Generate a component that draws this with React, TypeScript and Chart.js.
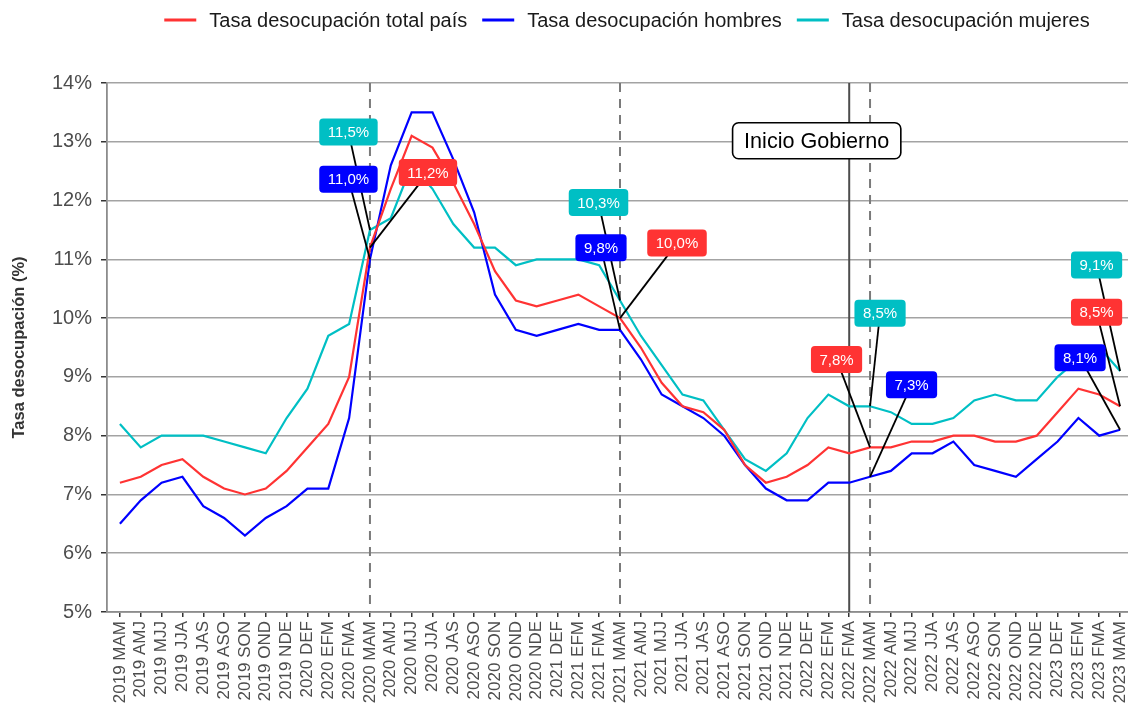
import React, { useEffect, useRef } from "react";
import { Chart, registerables } from "chart.js";

Chart.register(...registerables);

const categories = [
  "2019 MAM", "2019 AMJ", "2019 MJJ", "2019 JJA", "2019 JAS", "2019 ASO", "2019 SON", "2019 OND", "2019 NDE",
  "2020 DEF", "2020 EFM", "2020 FMA", "2020 MAM", "2020 AMJ", "2020 MJJ", "2020 JJA", "2020 JAS", "2020 ASO",
  "2020 SON", "2020 OND", "2020 NDE", "2021 DEF", "2021 EFM", "2021 FMA", "2021 MAM", "2021 AMJ", "2021 MJJ",
  "2021 JJA", "2021 JAS", "2021 ASO", "2021 SON", "2021 OND", "2021 NDE", "2022 DEF", "2022 EFM", "2022 FMA",
  "2022 MAM", "2022 AMJ", "2022 MJJ", "2022 JJA", "2022 JAS", "2022 ASO", "2022 SON", "2022 OND", "2022 NDE",
  "2023 DEF", "2023 EFM", "2023 FMA", "2023 MAM",
];

const totalPais = [
  7.2, 7.3, 7.5, 7.6, 7.3, 7.1, 7.0, 7.1, 7.4,
  7.8, 8.2, 9.0, 11.2, 12.2, 13.1, 12.9, 12.3, 11.6,
  10.8, 10.3, 10.2, 10.3, 10.4, 10.2, 10.0, 9.5, 8.9,
  8.5, 8.4, 8.1, 7.5, 7.2, 7.3, 7.5, 7.8, 7.7,
  7.8, 7.8, 7.9, 7.9, 8.0, 8.0, 7.9, 7.9, 8.0,
  8.4, 8.8, 8.7, 8.5,
];

const hombres = [
  6.5, 6.9, 7.2, 7.3, 6.8, 6.6, 6.3, 6.6, 6.8,
  7.1, 7.1, 8.3, 11.0, 12.6, 13.5, 13.5, 12.7, 11.8,
  10.4, 9.8, 9.7, 9.8, 9.9, 9.8, 9.8, 9.3, 8.7,
  8.5, 8.3, 8.0, 7.5, 7.1, 6.9, 6.9, 7.2, 7.2,
  7.3, 7.4, 7.7, 7.7, 7.9, 7.5, 7.4, 7.3, 7.6,
  7.9, 8.3, 8.0, 8.1,
];

const mujeres = [
  8.2, 7.8, 8.0, 8.0, 8.0, 7.9, 7.8, 7.7, 8.3,
  8.8, 9.7, 9.9, 11.5, 11.7, 12.6, 12.2, 11.6, 11.2,
  11.2, 10.9, 11.0, 11.0, 11.0, 10.9, 10.3, 9.7, 9.2,
  8.7, 8.6, 8.1, 7.6, 7.4, 7.7, 8.3, 8.7, 8.5,
  8.5, 8.4, 8.2, 8.2, 8.3, 8.6, 8.7, 8.6, 8.6,
  9.0, 9.3, 9.5, 9.1,
];

const yTickValues = [5, 6, 7, 8, 9, 10, 11, 12, 13, 14];

const seriesNames = [
  "Tasa desocupación total país",
  "Tasa desocupación hombres",
  "Tasa desocupación mujeres",
];

const dashedAt = ["2020 MAM", "2021 MAM", "2022 MAM"];
const gobiernoAt = "2022 FMA";
const gobiernoText = "Inicio Gobierno";

// label placement (pixel offsets from the labelled point)
const annotations = [
  { series: 2, cat: "2020 MAM", dx: -21.5, dy: -98 },
  { series: 1, cat: "2020 MAM", dx: -21.5, dy: -80 },
  { series: 0, cat: "2020 MAM", dx: 58, dy: -75 },
  { series: 2, cat: "2021 MAM", dx: -21.5, dy: -98 },
  { series: 1, cat: "2021 MAM", dx: -19, dy: -82 },
  { series: 0, cat: "2021 MAM", dx: 57, dy: -75 },
  { series: 0, cat: "2022 MAM", dx: -33.5, dy: -88 },
  { series: 2, cat: "2022 MAM", dx: 10, dy: -93 },
  { series: 1, cat: "2022 MAM", dx: 41.5, dy: -92 },
  { series: 2, cat: "2023 MAM", dx: -23.5, dy: -106 },
  { series: 0, cat: "2023 MAM", dx: -23.5, dy: -94 },
  { series: 1, cat: "2023 MAM", dx: -40, dy: -72 },
];

const COLORS = ["#FF3333", "#0000FF", "#00BFC4"];
const FONT = "'Liberation Sans', Arial, Helvetica, sans-serif";

function roundRect(ctx: CanvasRenderingContext2D, x: number, y: number, w: number, h: number, r: number) {
  ctx.beginPath();
  ctx.moveTo(x + r, y);
  ctx.lineTo(x + w - r, y);
  ctx.arcTo(x + w, y, x + w, y + r, r);
  ctx.lineTo(x + w, y + h - r);
  ctx.arcTo(x + w, y + h, x + w - r, y + h, r);
  ctx.lineTo(x + r, y + h);
  ctx.arcTo(x, y + h, x, y + h - r, r);
  ctx.lineTo(x, y + r);
  ctx.arcTo(x, y, x + r, y, r);
  ctx.closePath();
}

const overlayPlugin = {
  id: "overlay",
  beforeDatasetsDraw(chart: any) {
    const { ctx, chartArea, scales } = chart;
    const x = scales.x;
    ctx.save();
    ctx.lineWidth = 2;
    ctx.strokeStyle = "#7a7a7a";
    ctx.setLineDash([9, 7]);
    dashedAt.forEach((c) => {
      const px = x.getPixelForValue(categories.indexOf(c));
      ctx.beginPath();
      ctx.moveTo(px, chartArea.top);
      ctx.lineTo(px, chartArea.bottom);
      ctx.stroke();
    });
    ctx.setLineDash([]);
    ctx.strokeStyle = "#4d4d4d";
    const gx = x.getPixelForValue(categories.indexOf(gobiernoAt));
    ctx.beginPath();
    ctx.moveTo(gx, chartArea.top);
    ctx.lineTo(gx, chartArea.bottom);
    ctx.stroke();
    ctx.restore();
  },
  afterDatasetsDraw(chart: any) {
    const { ctx, scales } = chart;
    const x = scales.x;
    const y = scales.y;
    const data = [totalPais, hombres, mujeres];
    ctx.save();
    const items = annotations.map((a) => {
      const i = categories.indexOf(a.cat);
      const v = data[a.series][i];
      const px = x.getPixelForValue(i);
      const py = y.getPixelForValue(v);
      return { px, py, cx: px + a.dx, cy: py + a.dy, v, s: a.series };
    });
    ctx.strokeStyle = "#000";
    ctx.lineWidth = 1.8;
    items.forEach((it) => {
      ctx.beginPath();
      ctx.moveTo(it.cx, it.cy);
      ctx.lineTo(it.px, it.py);
      ctx.stroke();
    });
    ctx.font = `15px ${FONT}`;
    ctx.textAlign = "center";
    ctx.textBaseline = "middle";
    items.forEach((it) => {
      const txt = it.v.toFixed(1).replace(".", ",") + "%";
      const w = ctx.measureText(txt).width + 17;
      const h = 27;
      roundRect(ctx, it.cx - w / 2, it.cy - h / 2, w, h, 4);
      ctx.fillStyle = COLORS[it.s];
      ctx.fill();
      ctx.fillStyle = "#fff";
      ctx.fillText(txt, it.cx, it.cy + 1);
    });

    // Inicio Gobierno label
    const gx = x.getPixelForValue(categories.indexOf(gobiernoAt)) - 32.5;
    const gy = y.getPixelForValue(13) - 1;
    ctx.font = `21.6px ${FONT}`;
    const gw = ctx.measureText(gobiernoText).width + 23;
    const gh = 36;
    roundRect(ctx, gx - gw / 2, gy - gh / 2, gw, gh, 6);
    ctx.fillStyle = "#fff";
    ctx.fill();
    ctx.lineWidth = 1.6;
    ctx.strokeStyle = "#000";
    ctx.stroke();
    ctx.fillStyle = "#000";
    ctx.fillText(gobiernoText, gx, gy + 1);
    ctx.restore();
  },
  afterDraw(chart: any) {
    const { ctx } = chart;
    ctx.save();
    ctx.font = `20px ${FONT}`;
    ctx.textBaseline = "middle";
    ctx.textAlign = "left";
    const lineW = 32;
    const gap1 = 13;
    const gap2 = 15;
    const widths = seriesNames.map((n) => ctx.measureText(n).width);
    const total = widths.reduce((a, b) => a + b, 0) + 3 * (lineW + gap1) + 2 * gap2;
    let xPos = 627 - total / 2;
    const yPos = 20;
    seriesNames.forEach((n, i) => {
      ctx.strokeStyle = COLORS[i];
      ctx.lineWidth = 3;
      ctx.beginPath();
      ctx.moveTo(xPos, yPos);
      ctx.lineTo(xPos + lineW, yPos);
      ctx.stroke();
      xPos += lineW + gap1;
      ctx.fillStyle = "#1a1a1a";
      ctx.fillText(n, xPos, yPos + 1);
      xPos += widths[i] + gap2;
    });
    ctx.restore();
  },
};

export default function App() {
  const canvasRef = useRef<HTMLCanvasElement | null>(null);

  useEffect(() => {
    document.body.style.margin = "0";
    const canvas = canvasRef.current;
    if (!canvas) return;
    Chart.defaults.font.family = FONT;

    const mk = (arr: number[], i: number) => ({
      label: seriesNames[i],
      data: arr.map((v, k) => ({ x: k, y: v })),
      borderColor: COLORS[i],
      backgroundColor: COLORS[i],
      borderWidth: 2.2,
      pointRadius: 0,
      pointHoverRadius: 0,
      tension: 0,
      fill: false,
    });

    const chart = new Chart(canvas, {
      type: "line",
      data: {
        datasets: [mk(totalPais, 0), mk(hombres, 1), mk(mujeres, 2)],
      },
      plugins: [overlayPlugin],
      options: {
        animation: false,
        responsive: true,
        maintainAspectRatio: false,
        layout: { padding: { top: 83, left: 0, right: 0, bottom: 0 } },
        plugins: {
          legend: { display: false },
          tooltip: { enabled: false },
          title: { display: false },
        },
        scales: {
          x: {
            type: "linear",
            min: -0.62,
            max: categories.length - 1 + 0.38,
            afterBuildTicks: (scale: any) => {
              scale.ticks = categories.map((_, i) => ({ value: i }));
            },
            afterFit: (scale: any) => {
              scale.height = 97;
              scale.paddingLeft = 0;
              scale.paddingRight = 0;
            },
            ticks: {
              autoSkip: false,
              minRotation: 90,
              maxRotation: 90,
              padding: 4,
              color: "#4d4d4d",
              font: { size: 17 },
              callback: (v: any) => categories[Math.round(Number(v))] ?? "",
            },
            grid: {
              drawOnChartArea: false,
              drawTicks: true,
              tickLength: 5,
              tickColor: "#333333",
              lineWidth: 1.5,
            },
            border: { display: true, color: "#8c8c8c", width: 1.8 },
          },
          y: {
            type: "linear",
            min: 5,
            max: 14,
            afterBuildTicks: (scale: any) => {
              scale.ticks = yTickValues.map((v) => ({ value: v }));
            },
            afterFit: (scale: any) => {
              scale.width = 107;
              scale.paddingTop = 0;
              scale.paddingBottom = 0;
            },
            ticks: {
              padding: 9,
              color: "#4d4d4d",
              font: { size: 20 },
              callback: (v: any) => `${v}%`,
            },
            grid: {
              color: "#a3a3a3",
              lineWidth: 1.5,
              tickLength: 6,
              tickColor: "#333333",
            },
            border: { display: true, color: "#8c8c8c", width: 1.8 },
            title: {
              display: true,
              text: "Tasa desocupación (%)",
              color: "#333333",
              font: { size: 16.5, weight: "bold" },
              padding: { top: 9.2, bottom: 0 },
            },
          },
        },
      },
    } as any);

    return () => chart.destroy();
  }, []);

  return (
    <div style={{ width: 1128, height: 709, position: "relative" }}>
      <canvas ref={canvasRef} />
    </div>
  );
}
